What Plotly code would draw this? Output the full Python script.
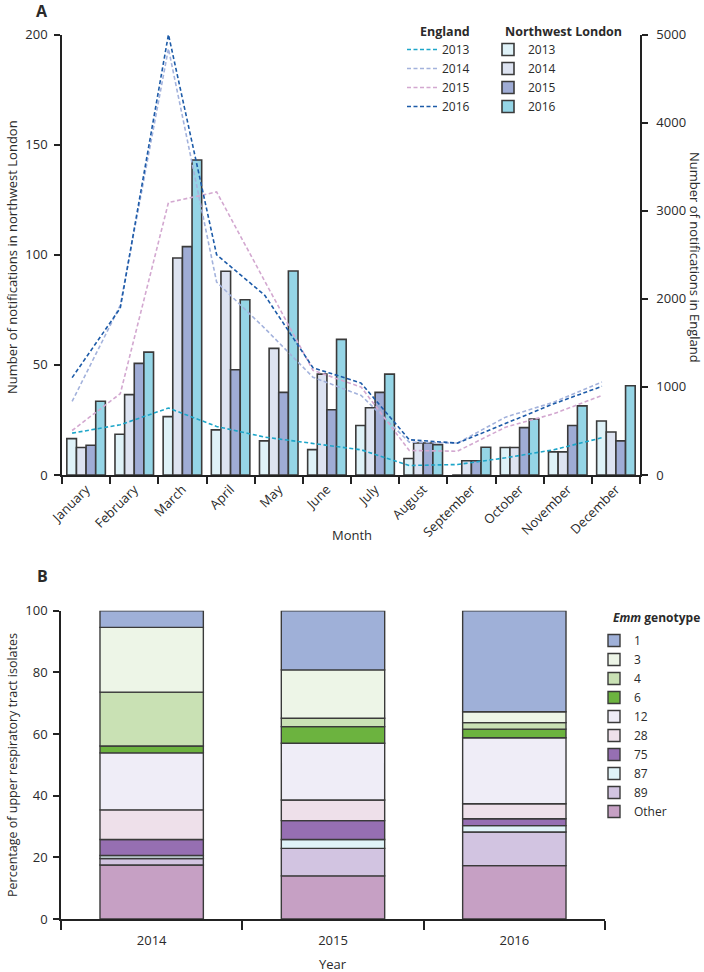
import plotly.graph_objects as go
import numpy as np

# ---------------- Panel A data ----------------
months = ["January", "February", "March", "April", "May", "June", "July",
          "August", "September", "October", "November", "December"]
years = ["2013", "2014", "2015", "2016"]

# Northwest London notifications (bars, left axis)
nwl_2013 = [16.5, 18.5, 26.5, 20.5, 15.5, 11.5, 22.5, 7.5, 0, 12.5, 10.5, 24.5]
nwl_2014 = [12.5, 36.5, 98.5, 92.5, 57.5, 45.8, 30.5, 14.5, 6.5, 12.5, 10.5, 19.5]
nwl_2015 = [13.5, 50.7, 103.7, 47.8, 37.5, 29.6, 37.5, 14.5, 6.5, 21.5, 22.5, 15.5]
nwl_2016 = [33.5, 55.8, 143, 79.6, 92.6, 61.6, 45.8, 13.8, 12.6, 25.4, 31.4, 40.5]

# England notifications (dashed lines, right axis)
eng_2013 = [475, 570, 760, 551, 430, 361, 286, 108, 119, 195, 286, 423]
eng_2014 = [835, 1926, 4840, 2190, 1665, 1110, 903, 373, 362, 657, 827, 1055]
eng_2015 = [505, 923, 3093, 3213, 2200, 1188, 998, 278, 270, 543, 695, 903]
eng_2016 = [1105, 1895, 5000, 2500, 2040, 1218, 1043, 400, 362, 582, 809, 1006]

# ---------------- Panel B data ----------------
b_years = ["2014", "2015", "2016"]
genotypes = ["Other", "89", "87", "75", "28", "12", "6", "4", "3", "1"]
pct = {
    "Other": [17.5, 14.0, 17.3],
    "89":    [2.1, 8.9, 10.9],
    "87":    [1.0, 2.9, 2.1],
    "75":    [5.2, 6.1, 2.2],
    "28":    [9.6, 6.7, 4.9],
    "12":    [18.5, 18.4, 21.4],
    "6":     [2.2, 5.4, 2.8],
    "4":     [17.5, 2.7, 2.1],
    "3":     [21.0, 15.7, 3.5],
    "1":     [5.4, 19.2, 32.8],
}

# ---------------- styles ----------------
bar_colors = {"2013": "#dff2f8", "2014": "#dde3f1", "2015": "#9facd5", "2016": "#95d5e6"}
line_colors = {"2013": "#1ea6c9", "2014": "#a3b2dc", "2015": "#d3a8d0", "2016": "#1d5ba8"}
geno_colors = {"1": "#9fb0d8", "3": "#edf5e7", "4": "#c9e1b4", "6": "#6cb33f",
               "12": "#efedf7", "28": "#eee0ea", "75": "#966fb2", "87": "#e0f3f8",
               "89": "#d2c4e1", "Other": "#c6a0c4"}
FONT = "Open Sans"
TXT = "#2a2a2a"
AX = "#222222"
W, H = 704, 972

def px_x(p):
    return p / W

def px_y(p):
    return 1 - p / H

fig = go.Figure()

nwl = {"2013": nwl_2013, "2014": nwl_2014, "2015": nwl_2015, "2016": nwl_2016}
eng = {"2013": eng_2013, "2014": eng_2014, "2015": eng_2015, "2016": eng_2016}
mx = np.arange(len(months))

for yr in years:
    fig.add_trace(go.Bar(
        x=mx, y=nwl[yr], name=yr, offsetgroup="a" + yr,
        marker=dict(color=bar_colors[yr], line=dict(color="#3a3a3a", width=1.6)),
        xaxis="x", yaxis="y", legend="legend2", showlegend=True,
    ))

for yr in years:
    fig.add_trace(go.Scatter(
        x=mx - 0.29, y=eng[yr], name=yr, mode="lines",
        line=dict(color=line_colors[yr], width=1.6, dash="4px,2.5px"),
        xaxis="x", yaxis="y2", legend="legend", showlegend=True,
    ))

bx = np.arange(len(b_years))
for g in genotypes:
    fig.add_trace(go.Bar(
        x=bx, y=pct[g], name=g, offsetgroup="b", width=0.57,
        marker=dict(color=geno_colors[g], line=dict(color="#3a3a3a", width=1.4)),
        xaxis="x2", yaxis="y3", legend="legend3", showlegend=True,
    ))

axis_common = dict(showline=True, linecolor=AX, linewidth=1.5, showgrid=False,
                   zeroline=False, tickcolor=AX, tickwidth=1.5, automargin=False,
                   tickfont=dict(family=FONT, size=13, color=TXT))

leg_font = dict(family=FONT, size=12, color=TXT)

fig.update_layout(
    width=W, height=H, autosize=False,
    margin=dict(l=0, r=0, t=0, b=0, pad=0),
    paper_bgcolor="white", plot_bgcolor="white",
    barmode="relative", bargap=0.2, bargroupgap=0,
    font=dict(family=FONT, size=13, color=TXT),
    xaxis=dict(
        **axis_common,
        domain=[px_x(62), px_x(640)], range=[-0.5, 11.5],
        tickmode="array", tickvals=list(mx), ticktext=months,
        ticks="", tickangle=-45, anchor="y",
        minor=dict(tickmode="array", tickvals=[i - 0.5 for i in range(13)],
                   ticks="outside", ticklen=7, tickcolor=AX, tickwidth=1.5),
    ),
    yaxis=dict(
        **axis_common,
        domain=[px_y(475), px_y(34.5)], range=[0, 200],
        tickvals=[0, 50, 100, 150, 200], ticks="outside", ticklen=6,
        ticklabelstandoff=4, anchor="x",
    ),
    yaxis2=dict(
        **axis_common,
        domain=[px_y(475), px_y(34.5)], range=[0, 5000], overlaying="y",
        side="right", anchor="x",
        tickvals=[0, 1000, 2000, 3000, 4000, 5000], ticks="outside", ticklen=6,
        ticklabelstandoff=6,
    ),
    xaxis2=dict(
        **axis_common,
        domain=[px_x(61), px_x(605)], range=[-0.5, 2.5],
        tickmode="array", tickvals=list(bx), ticktext=b_years,
        ticks="", anchor="y3", ticklabelstandoff=9,
        minor=dict(tickmode="array", tickvals=[-0.5, 0.5, 1.5, 2.5],
                   ticks="outside", ticklen=9, tickcolor=AX, tickwidth=1.5),
    ),
    yaxis3=dict(
        **axis_common,
        domain=[px_y(919), px_y(610.7)], range=[0, 100],
        tickvals=[0, 20, 40, 60, 80, 100], ticks="outside", ticklen=6,
        ticklabelstandoff=3, anchor="x2",
    ),
    legend=dict(x=px_x(402), y=px_y(35), xanchor="left", yanchor="top",
                font=leg_font, tracegroupgap=0,
                itemwidth=30, bgcolor="rgba(0,0,0,0)", traceorder="normal"),
    legend2=dict(x=px_x(488), y=px_y(35), xanchor="left", yanchor="top",
                 font=leg_font, tracegroupgap=0,
                 bgcolor="rgba(0,0,0,0)", traceorder="normal"),
    legend3=dict(x=px_x(594), y=px_y(626), xanchor="left", yanchor="top",
                 font=leg_font, tracegroupgap=0,
                 bgcolor="rgba(0,0,0,0)", traceorder="reversed"),
)

ann = [
    dict(text="<b>A</b>", x=px_x(42), y=px_y(11), xanchor="center", yanchor="middle", font=dict(size=16)),
    dict(text="<b>B</b>", x=px_x(42), y=px_y(576), xanchor="center", yanchor="middle", font=dict(size=16)),
    dict(text="<b>England</b>", x=px_x(418), y=px_y(32), xanchor="left", yanchor="middle", font=dict(size=12.5)),
    dict(text="<b>Northwest London</b>", x=px_x(503), y=px_y(32), xanchor="left", yanchor="middle", font=dict(size=12.5)),
    dict(text="<b><i>Emm</i> genotype</b>", x=px_x(611), y=px_y(617), xanchor="left", yanchor="middle", font=dict(size=12)),
    dict(text="Number of notifications in northwest London", x=px_x(12), y=px_y(257),
         textangle=-90, xanchor="center", yanchor="middle", font=dict(size=13)),
    dict(text="Number of notifications in England", x=px_x(695), y=px_y(257),
         textangle=90, xanchor="center", yanchor="middle", font=dict(size=13)),
    dict(text="Month", x=px_x(352), y=px_y(535), xanchor="center", yanchor="middle", font=dict(size=13)),
    dict(text="Year", x=px_x(333), y=px_y(964), xanchor="center", yanchor="middle", font=dict(size=13)),
    dict(text="Percentage of upper respiratory tract isolates", x=px_x(12), y=px_y(765),
         textangle=-90, xanchor="center", yanchor="middle", font=dict(size=12.5)),
]
for a in ann:
    a.update(xref="paper", yref="paper", showarrow=False)
    a["font"] = dict(family=FONT, color=TXT, **a["font"])
fig.update_layout(annotations=ann)

fig.write_html(
    "out.html",
    config=dict(displayModeBar=False),
    post_script="document.body.style.margin='0';document.documentElement.style.overflow='hidden';",
)
